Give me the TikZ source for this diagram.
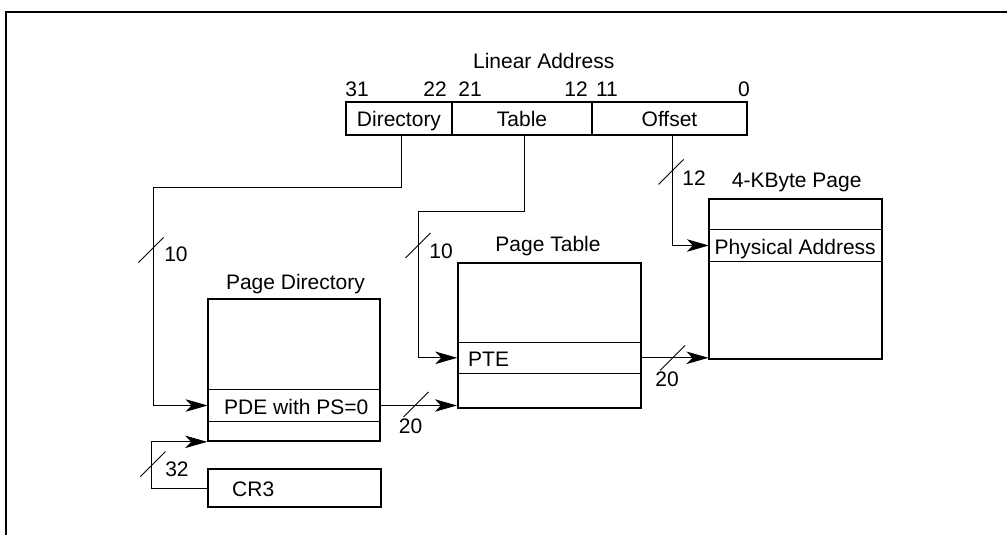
\documentclass[tikz,border=0pt]{standalone}
\usepackage{fontspec}
\setmainfont{Liberation Sans}
\usetikzlibrary{arrows.meta}
% slash on a bus: name, slash centre, label base, width
\newcommand{\buswidth}[4]{%
  \draw[busline] (#2) ++(-12.5,12.5) -- ++(25,-25);
  \node[lbl,anchor=base] (#1) at (#3) {#4};}

\begin{document}
\begin{tikzpicture}[x=1pt,y=-1pt,
  font=\fontsize{21}{25}\selectfont,
  lbl/.style={inner sep=0pt},
  box/.style={draw,line width=1.7pt,inner sep=0pt,text height=15pt,text depth=0pt},
  row/.style={draw,line width=0.9pt,inner sep=0pt},
  busline/.style={line width=0.9pt},
  conn/.style={line width=0.9pt,-{Stealth[length=22pt,width=12.5pt,inset=6pt]}}]
  \useasboundingbox (0,0) rectangle (1007,535);
  \draw[line width=1.8pt] (6,540) -- (6,12) -- (1010,12);

  % linear address
  \node[lbl,anchor=base] (la) at (543.7,68.3) {Linear Address};
  \foreach \x/\b in {357/31,435/22,470/21,576/12,607/11,744/0}
    \node[lbl,anchor=base] (bit\b) at (\x,96) {\b};
  \node[box,minimum width=106pt,minimum height=33pt] (dir) at (399,118.5) {Directory};
  \node[box,minimum width=140pt,minimum height=33pt] (tab) at (522,118.5) {Table};
  \node[box,minimum width=155pt,minimum height=33pt] (off) at (669.5,118.5) {Offset};

  % page directory
  \node[lbl,anchor=base] (pdtitle) at (295.5,289) {Page Directory};
  \node[row,minimum width=172pt,minimum height=32.4pt] (pde) at (294,405.5) {};
  \node[box,minimum width=172pt,minimum height=142pt] (pd) at (294,370) {};
  \node[lbl,anchor=base west] (pdetxt) at (224,414.3) {PDE with PS=0};

  % CR3
  \node[box,minimum width=173pt,minimum height=37.4pt] (cr3) at (294.5,488) {};
  \node[lbl,anchor=base west] (cr3txt) at (232,496.7) {CR3};

  % page table
  \node[lbl,anchor=base] (pttitle) at (548,251.5) {Page Table};
  \node[row,minimum width=183pt,minimum height=31pt] (pte) at (549.2,357.8) {};
  \node[box,minimum width=183pt,minimum height=144.4pt] (pt) at (549.2,335.5) {};
  \node[lbl,anchor=base west] (ptetxt) at (468,366) {PTE};

  % 4-KByte page
  \node[lbl,anchor=base] (pgtitle) at (796.7,187.3) {4-KByte Page};
  \node[row,minimum width=172.4pt,minimum height=32.4pt] (phys) at (795.5,245.5) {};
  \node[box,minimum width=172.4pt,minimum height=160pt] (pg) at (795.5,279.3) {};
  \node[lbl,anchor=base west] (phystxt) at (714.5,254.3) {Physical Address};

  % connectors
  \draw[conn] ([xshift=2.7pt]dir.south) |- (153,187.3) |- (pde.west);
  \draw[conn] ([xshift=2.3pt]tab.south) |- (418.3,211) |- (pte.west);
  \draw[conn] ([xshift=2.8pt]off.south) |- (phys.west);
  \draw[conn] (pde.east) -- (pde.east -| pt.west);
  \draw[conn] (pte.east) -- (pte.east -| pg.west);
  \draw[conn] (cr3.west) -- ++(-56,0) |- (pd.south west);

  \buswidth{w10a}{151,250}{176,261.7}{10}
  \buswidth{w10b}{418,245.5}{441,258.3}{10}
  \buswidth{w12}{671,172}{694,185}{12}
  \buswidth{w32}{153,464}{177,476}{32}
  \buswidth{w20a}{416,404.5}{410.5,433}{20}
  \buswidth{w20b}{672.5,358}{667,386.7}{20}
\end{tikzpicture}
\end{document}
